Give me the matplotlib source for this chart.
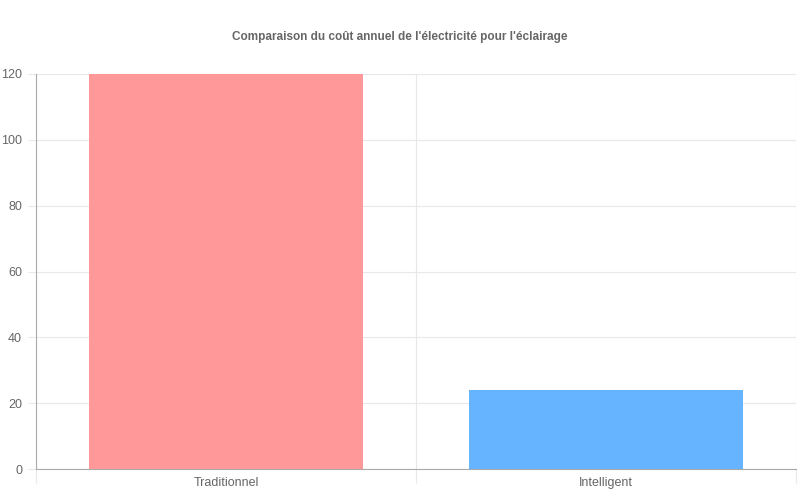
import numpy as np
import matplotlib.pyplot as plt

plt.rcParams['font.family'] = ['Liberation Sans', 'DejaVu Sans']

categories = ["Traditionnel", "Intelligent"]
costs = [120, 24]
colors = ["#FF9999", "#66B3FF"]
title = "Comparaison du coût annuel de l'électricité pour l'éclairage"

fig = plt.figure(figsize=(8, 5), dpi=100)
ax = fig.add_axes([36 / 800, 31 / 500, 760 / 800, 395 / 500])

x = np.arange(len(categories))
ax.bar(x, costs, width=0.72, color=colors, zorder=3)

ax.set_xlim(-0.5, len(categories) - 0.5)
ax.set_ylim(0, 120)
ax.set_yticks(range(0, 121, 20))
ax.set_xticks(x)
ax.set_xticklabels(categories)
ax.set_xticks(np.arange(-0.5, len(categories), 1), minor=True)

ax.grid(True, axis='y', color="#e8e8e8", linewidth=0.8, zorder=0)
ax.grid(True, axis='x', which='minor', color="#e8e8e8", linewidth=0.8, zorder=0)
ax.tick_params(axis='x', which='major', length=0, pad=6, labelsize=9, labelcolor="#666666")
ax.tick_params(axis='x', which='minor', length=10, color="#e8e8e8", width=0.8)
ax.tick_params(axis='y', length=6, color="#e8e8e8", width=0.8, pad=4, labelsize=9, labelcolor="#666666")

for side in ['top', 'right']:
    ax.spines[side].set_visible(False)
ax.spines['left'].set_color("#aaaaaa")
ax.spines['bottom'].set_color("#aaaaaa")

fig.text(0.5, 1 - 37 / 500, title, ha='center', va='center',
         fontsize=8.5, fontweight='bold', color="#666666")

fig.savefig("out.png", dpi=100)
